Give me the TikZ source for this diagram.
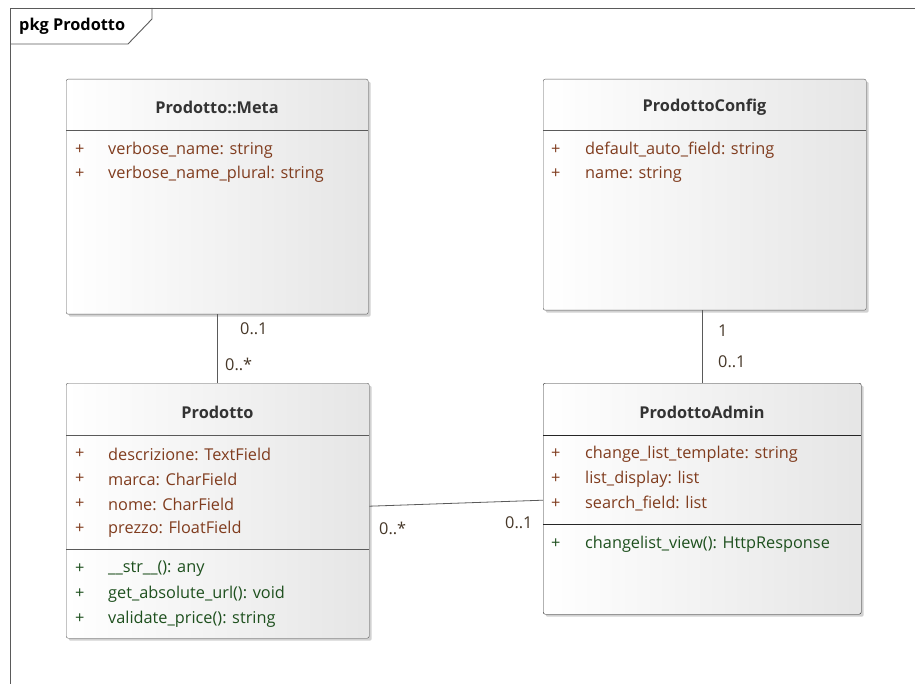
\documentclass[tikz,border=0pt]{standalone}
\usepackage{fontspec}
\setmainfont{Open Sans}
\usetikzlibrary{shadows,calc}
\definecolor{attrc}{RGB}{128,60,30}
\definecolor{methc}{RGB}{30,80,30}
\definecolor{linec}{RGB}{90,90,90}
\definecolor{multc}{RGB}{70,55,40}
\newcommand{\fsz}{\fontsize{16.3}{19}\selectfont}
\tikzset{
  umlbox/.style={draw=linec, rounded corners=2pt, left color=white, right color=gray!20,
    inner sep=0pt, anchor=north west,
    drop shadow={shadow xshift=2.5pt, shadow yshift=-2.5pt, fill=gray!60, opacity=0.6}},
  ctitle/.style={font=\fsz\bfseries, text=black!80},
  sepline/.style={draw=linec},
  plus/.style={anchor=west, inner sep=0pt, font=\fsz},
  attr/.style={anchor=west, inner sep=0pt, text=attrc, font=\fsz},
  meth/.style={anchor=west, inner sep=0pt, text=methc, font=\fsz},
  mult/.style={anchor=west, inner sep=0pt, text=multc, font=\fsz},
  conn/.style={draw=linec, line width=0.8pt}
}
\begin{document}
\begin{tikzpicture}[x=1pt,y=-1pt]
\useasboundingbox (0,0) rectangle (915,684);
% frame
\draw[linec, line width=0.9pt] (10,690) -- (10,8) -- (920,8);
\draw[linec, line width=0.9pt] (10,44) -- (128,44) -- (152,19) -- (152,8);
\node[anchor=west, inner sep=0pt, font=\fsz\bfseries] (pkg) at (19,26) {pkg Prodotto};

% Prodotto::Meta
\node[umlbox, minimum width=302pt, minimum height=235pt] (meta) at (66,79) {};
\node[ctitle] (metat) at (217,107) {Prodotto::Meta};
\draw[sepline] (66,130) -- (368,130);
\node[plus,text=attrc] at (75,150) {+};
\node[attr] (m1) at (108,150) {verbose\_name: string};
\node[plus,text=attrc] at (75,174) {+};
\node[attr] (m2) at (108,174) {verbose\_name\_plural: string};

% ProdottoConfig
\node[umlbox, minimum width=323pt, minimum height=231pt] (cfg) at (543,79) {};
\node[ctitle] (cfgt) at (704.5,107) {ProdottoConfig};
\draw[sepline] (543,130) -- (866,130);
\node[plus,text=attrc] at (551,150) {+};
\node[attr] (c1) at (585,150) {default\_auto\_field: string};
\node[plus,text=attrc] at (551,174) {+};
\node[attr] (c2) at (585,174) {name: string};

% Prodotto
\node[umlbox, minimum width=303pt, minimum height=255pt] (prod) at (66,383) {};
\node[ctitle] (prodt) at (217.5,412) {Prodotto};
\draw[sepline] (66,435) -- (369,435);
\draw[sepline] (66,549) -- (369,549);
\foreach \yy/\tt in {454/descrizione: TextField, 479/marca: CharField, 504/nome: CharField, 529/prezzo: FloatField}{
  \node[plus,text=attrc] at (75,\yy) {+};
  \node[attr] at (108,\yy) {\tt};
}
\node[plus,text=methc] at (75,569) {+};
\node[meth] at (108,569) {\_\_str\_\_(): any};
\node[plus,text=methc] at (75,594) {+};
\node[meth] at (108,594) {get\_absolute\_url(): void};
\node[plus,text=methc] at (75,619) {+};
\node[meth] at (108,619) {validate\_price(): string};

% ProdottoAdmin
\node[umlbox, draw=black!85, minimum width=318pt, minimum height=231pt] (adm) at (543,383) {};
\node[ctitle] (admt) at (702,412) {ProdottoAdmin};
\draw[draw=black!85] (543,435) -- (861,435);
\draw[draw=black!85] (543,524) -- (861,524);
\node[plus,text=attrc] at (551,454) {+};
\node[attr] at (585,454) {change\_list\_template: string};
\node[plus,text=attrc] at (551,479) {+};
\node[attr] at (585,479) {list\_display: list};
\node[plus,text=attrc] at (551,504) {+};
\node[attr] at (585,504) {search\_field: list};
\node[plus,text=methc] at (551,544) {+};
\node[meth] at (585,544) {changelist\_view(): HttpResponse};

% connectors
\draw[conn] (meta.south) -- (prod.north -| meta.south);
\node[mult] at (240,329) {0..1};
\node[mult] at (225,364) {0..*};

\draw[conn] (cfg.south -| adm.north) -- (adm.north);
\node[mult] at (718,331) {1};
\node[mult] at (718,362) {0..1};

\draw[conn] ([yshift=4.5pt]prod.east) -- ([yshift=-1.5pt]adm.west);
\node[mult] at (379,528) {0..*};
\node[mult] at (505,523) {0..1};
\end{tikzpicture}
\end{document}
